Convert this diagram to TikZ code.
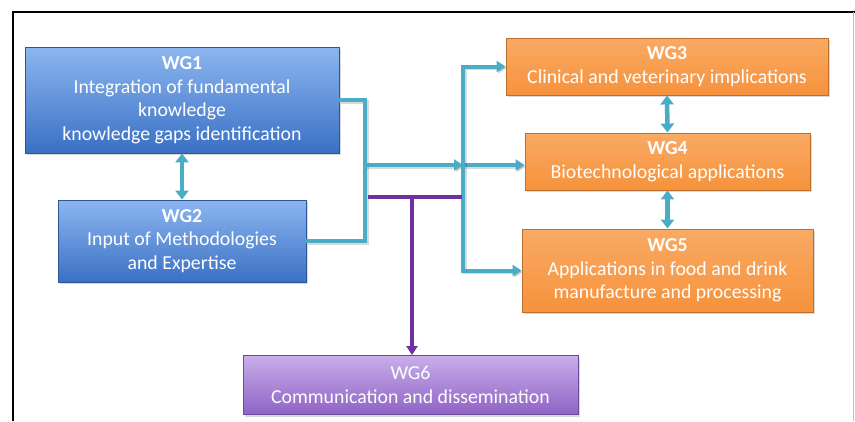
\documentclass[tikz,border=0pt]{standalone}
\usepackage{fontspec}
\setmainfont{Carlito}
\usetikzlibrary{arrows.meta,shadows}

\definecolor{linkteal}{RGB}{75,172,198}
\definecolor{wgpurple}{RGB}{112,48,160}

\begin{document}
\begin{tikzpicture}[x=1pt,y=-1pt,
  wgbox/.style={draw, line width=0.9pt, text=white, align=center, inner sep=0pt,
    font=\fontsize{19.8}{23.5}\selectfont,
    drop shadow={opacity=0.3, shadow xshift=2pt, shadow yshift=-2pt}},
  bluebox/.style={wgbox, draw={rgb,255:red,47;green,85;blue,151},
    top color={rgb,255:red,140;green,182;blue,240},
    bottom color={rgb,255:red,58;green,112;blue,196}},
  orangebox/.style={wgbox, draw={rgb,255:red,190;green,110;blue,45},
    top color={rgb,255:red,249;green,170;blue,100},
    bottom color={rgb,255:red,246;green,146;blue,60}},
  purplebox/.style={wgbox, draw={rgb,255:red,106;green,74;blue,154},
    top color={rgb,255:red,200;green,174;blue,234},
    bottom color={rgb,255:red,143;green,99;blue,196}},
  link/.style={draw=linkteal, line width=4pt,
    preaction={draw=black, opacity=0.15, line width=4pt,
      transform canvas={shift={(1.5pt,-1.5pt)}}}},
  linkarrow/.style={link, -{Triangle[length=9pt,width=11pt]}},
  twoway/.style={draw=linkteal, line width=4.5pt,
    {Triangle[length=9pt,width=13pt]}-{Triangle[length=9pt,width=13pt]}},
  commline/.style={draw=wgpurple, line width=3.5pt},
  commarrow/.style={commline, -{Triangle[length=9pt,width=11pt]}}
]
\useasboundingbox (0,0) rectangle (855,421);

% frame
\draw[line width=1.5pt] (13,421) -- (13,12) -- (855,12);
\draw[gray!50, line width=0.6pt] (853,12) -- (853,421);

% working groups
\node[bluebox, minimum width=314pt, minimum height=106pt] (wg1) at (182,100)
  {\textbf{WG1}\\Integration of fundamental\\knowledge\\knowledge gaps identification};
\node[bluebox, minimum width=248pt, minimum height=82pt] (wg2) at (182,241)
  {\textbf{WG2}\\Input of Methodologies\\and Expertise};
\node[orangebox, minimum width=322pt, minimum height=57pt] (wg3) at (667,66.5)
  {\textbf{WG3}\\Clinical and veterinary implications};
\node[orangebox, minimum width=285pt, minimum height=57pt] (wg4) at (667.5,161.5)
  {\textbf{WG4}\\Biotechnological applications};
\node[orangebox, minimum width=291pt, minimum height=83pt] (wg5) at (667.5,270.5)
  {\textbf{WG5}\\Applications in food and drink\\manufacture and processing};
\node[purplebox, minimum width=335pt, minimum height=59pt] (wg6) at (410.5,385)
  {WG6\\Communication and dissemination};

% junction points of the connector network
\coordinate (busA) at (365,165);
\coordinate (busB) at (463,165);
\coordinate (commL) at (368,197);
\coordinate (commR) at (462,197);
\coordinate (commJ) at (412,197);

% teal connectors
\draw[link] (wg1.east) -| (busA) |- (wg2.east);
\draw[linkarrow] (busA) -- (busB);
\draw[linkarrow] (busB) -- (busB -| wg4.west);
\draw[linkarrow] (busB) |- (wg3.west);
\draw[linkarrow] (busB) |- (wg5.west);

% purple connector to WG6
\draw[commline] (commL) -- (commR);
\draw[commarrow] (commJ) -- (commJ |- wg6.north);

% two-way links
\draw[twoway] (wg1.south) -- (wg2.north);
\draw[twoway] (wg3.south) -- (wg4.north);
\draw[twoway] (wg4.south) -- (wg5.north);
\end{tikzpicture}
\end{document}
